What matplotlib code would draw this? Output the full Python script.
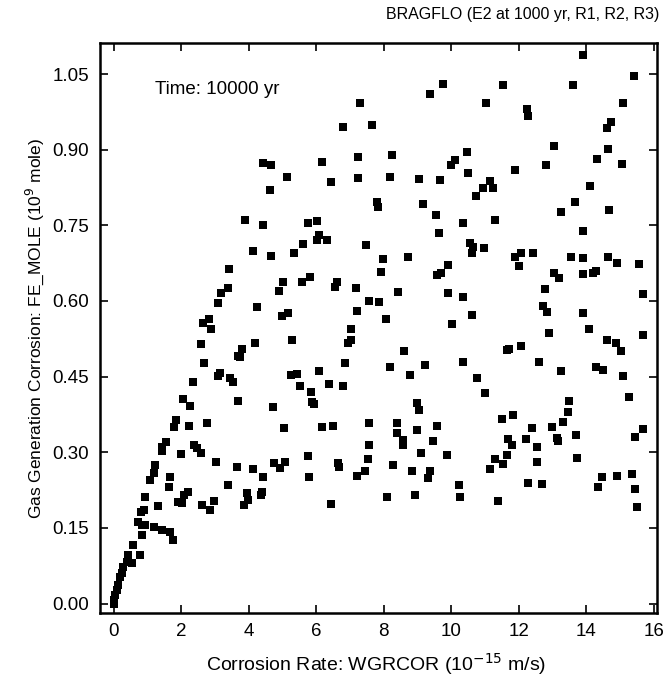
import matplotlib
matplotlib.use("Agg")
import matplotlib.pyplot as plt

plt.rcParams['font.family'] = ['Liberation Sans', 'DejaVu Sans']

title_text = "BRAGFLO (E2 at 1000 yr, R1, R2, R3)"
time_text = "Time: 10000 yr"
x_label = "Corrosion Rate: WGRCOR (10$^{-15}$ m/s)"
y_label = "Gas Generation Corrosion: FE_MOLE (10$^{9}$ mole)"
x_ticks = [0, 2, 4, 6, 8, 10, 12, 14, 16]
y_ticks = [0.00, 0.15, 0.30, 0.45, 0.60, 0.75, 0.90, 1.05]

wgrcor = [
    0.00, 0.02, 0.04, 0.10, 0.13, 0.19, 0.25, 0.28, 0.40, 0.55, 0.43, 0.79, 0.58, 0.84, 0.73,
    0.84, 0.93, 1.20, 1.44, 1.67, 1.76, 0.81, 0.90, 0.93, 1.32, 1.08, 1.20, 1.23, 1.67, 1.64,
    1.91, 2.03, 2.21, 2.09, 2.62, 2.86, 2.98, 3.39, 3.96, 3.87, 3.99, 4.40, 4.37, 1.56, 1.44,
    1.44, 2.00, 2.39, 2.47, 2.59, 3.04, 3.66, 4.13, 4.43, 4.76, 4.93, 5.08, 1.85, 1.79, 2.24,
    2.77, 5.05, 2.06, 2.27, 3.69, 4.73, 2.36, 3.16, 3.10, 3.45, 3.54, 5.26, 2.68, 3.81, 3.69,
    3.75, 4.19, 2.59, 5.29, 2.89, 2.83, 2.65, 4.99, 5.17, 4.25, 3.10, 4.90, 3.39, 3.19, 5.02,
    3.42, 4.13, 4.67, 5.35, 4.43, 4.67, 5.14, 4.64, 3.90, 4.43,
    9.76, 9.38, 7.30, 6.80, 7.66, 7.24, 8.25, 6.18, 6.44, 7.24, 8.19, 9.05, 9.67, 10.47, 10.12,
    10.00, 10.50, 10.74, 7.81, 7.84, 9.17, 9.56, 10.36, 9.64, 5.76, 6.03, 6.09, 6.03, 6.33, 5.61,
    7.48, 7.99, 8.73, 10.56, 10.65, 10.62, 9.91, 9.59, 9.70, 7.93, 5.59, 5.82, 6.62, 6.56, 7.19,
    8.43, 9.91, 10.36, 7.57, 7.87, 7.21, 8.07, 10.62, 10.03, 7.04, 7.04, 6.95, 8.61, 10.36, 6.86,
    8.19, 9.23, 8.79, 10.77, 5.44, 6.09, 5.53, 6.39, 6.80, 5.85, 5.94, 5.88, 8.99, 9.05, 6.18,
    6.50, 7.57, 8.40, 8.99, 8.40, 9.59, 8.58, 8.58, 9.47, 7.57, 9.11, 9.88, 5.76, 6.65, 6.68,
    7.54, 8.28, 7.45, 7.21, 8.84, 9.38, 9.32, 5.79, 10.24, 10.27, 8.10, 8.93, 6.44,
    15.42, 11.54, 13.61, 11.04, 15.10, 12.25, 12.28, 14.74, 14.62, 13.05, 14.65, 14.33, 15.07, 12.81, 11.90,
    11.16, 10.95, 11.24, 14.12, 13.67, 14.68, 13.26, 11.30, 13.91, 10.98, 11.90, 12.07, 12.43, 13.56, 13.91,
    14.65, 13.91, 12.01, 14.92, 15.57, 13.05, 13.20, 13.91, 14.21, 14.30, 12.79, 15.69, 12.73, 12.84, 13.91,
    14.09, 12.90, 15.69, 14.62, 14.89, 15.04, 11.66, 11.72, 12.07, 12.61, 14.30, 14.50, 13.26, 15.10, 11.01,
    15.27, 13.50, 13.47, 11.84, 11.51, 13.32, 12.99, 12.40, 15.69, 15.45, 13.70, 13.14, 13.17, 11.69, 11.81,
    12.22, 12.55, 12.55, 13.73, 11.66, 11.30, 11.54, 11.16, 12.28, 12.70, 11.39, 14.47, 14.36, 14.92, 15.36,
    15.45, 15.51,
]

fe_mole = [
    0.000, 0.007, 0.017, 0.027, 0.037, 0.053, 0.061, 0.072, 0.082, 0.080, 0.096, 0.096, 0.116, 0.136, 0.162,
    0.156, 0.156, 0.152, 0.146, 0.142, 0.126, 0.182, 0.186, 0.211, 0.193, 0.245, 0.259, 0.275, 0.251, 0.231,
    0.201, 0.199, 0.221, 0.215, 0.195, 0.186, 0.203, 0.235, 0.219, 0.195, 0.205, 0.221, 0.215, 0.320, 0.311,
    0.303, 0.297, 0.314, 0.309, 0.299, 0.281, 0.271, 0.267, 0.251, 0.279, 0.269, 0.281, 0.364, 0.350, 0.352,
    0.358, 0.348, 0.406, 0.392, 0.402, 0.390, 0.439, 0.457, 0.451, 0.447, 0.439, 0.453, 0.477, 0.505, 0.491,
    0.489, 0.517, 0.515, 0.523, 0.545, 0.564, 0.557, 0.570, 0.576, 0.588, 0.596, 0.620, 0.626, 0.616, 0.638,
    0.663, 0.699, 0.689, 0.695, 0.874, 0.870, 0.846, 0.820, 0.761, 0.751,
    1.031, 1.011, 0.993, 0.945, 0.949, 0.886, 0.890, 0.876, 0.836, 0.844, 0.846, 0.842, 0.840, 0.896, 0.880,
    0.870, 0.854, 0.808, 0.797, 0.787, 0.793, 0.771, 0.755, 0.735, 0.755, 0.759, 0.731, 0.721, 0.721, 0.713,
    0.711, 0.684, 0.688, 0.715, 0.707, 0.695, 0.672, 0.652, 0.656, 0.658, 0.638, 0.648, 0.638, 0.628, 0.626,
    0.618, 0.616, 0.608, 0.600, 0.598, 0.580, 0.564, 0.572, 0.555, 0.545, 0.523, 0.517, 0.501, 0.479, 0.477,
    0.469, 0.473, 0.453, 0.447, 0.455, 0.461, 0.432, 0.435, 0.432, 0.420, 0.396, 0.400, 0.398, 0.384, 0.350,
    0.352, 0.358, 0.358, 0.344, 0.338, 0.352, 0.324, 0.314, 0.322, 0.314, 0.299, 0.295, 0.293, 0.279, 0.271,
    0.287, 0.275, 0.263, 0.253, 0.263, 0.263, 0.249, 0.251, 0.235, 0.211, 0.211, 0.215, 0.197,
    1.047, 1.029, 1.029, 0.993, 0.993, 0.981, 0.967, 0.955, 0.943, 0.908, 0.902, 0.882, 0.872, 0.870, 0.860,
    0.838, 0.824, 0.824, 0.828, 0.797, 0.781, 0.777, 0.761, 0.739, 0.705, 0.688, 0.695, 0.695, 0.688, 0.686,
    0.688, 1.088, 0.670, 0.676, 0.674, 0.656, 0.646, 0.654, 0.656, 0.660, 0.624, 0.614, 0.590, 0.578, 0.576,
    0.545, 0.537, 0.533, 0.523, 0.517, 0.501, 0.503, 0.505, 0.511, 0.479, 0.469, 0.463, 0.461, 0.451, 0.418,
    0.410, 0.402, 0.380, 0.374, 0.366, 0.360, 0.350, 0.348, 0.346, 0.330, 0.334, 0.328, 0.322, 0.326, 0.314,
    0.326, 0.311, 0.281, 0.289, 0.295, 0.287, 0.277, 0.267, 0.239, 0.237, 0.203, 0.251, 0.231, 0.253, 0.257,
    0.227, 0.191,
]

fig = plt.figure(figsize=(6.63, 6.79), dpi=100)
ax = fig.add_axes([0.151, 0.097, 0.840, 0.840])

ax.scatter(wgrcor, fe_mole, marker='s', s=26, color='black', linewidths=0)

ax.set_xlim(-0.4, 16.1)
ax.set_ylim(-0.019, 1.112)
ax.set_xticks(x_ticks)
ax.set_xticklabels([str(t) for t in x_ticks])
ax.set_yticks(y_ticks)
ax.set_yticklabels([f"{t:.2f}" for t in y_ticks])

ax.tick_params(direction='in', length=6, width=1.2, top=True, right=True,
               labelsize=13.5, colors='black')
ax.tick_params(axis='y', pad=8)
ax.tick_params(axis='x', pad=7)
for sp in ax.spines.values():
    sp.set_linewidth(1.8)

ax.set_xlabel(x_label, fontsize=14)
ax.set_ylabel(y_label, fontsize=12.5)
ax.xaxis.set_label_coords(0.496, -0.066)
ax.yaxis.set_label_coords(-0.098, 0.5)

ax.text(1.23, 1.019, time_text, fontsize=13.5, ha='left', va='center')
fig.text(0.995, 0.979, title_text, fontsize=11.5, ha='right', va='center')

fig.savefig("out.png", dpi=100)
